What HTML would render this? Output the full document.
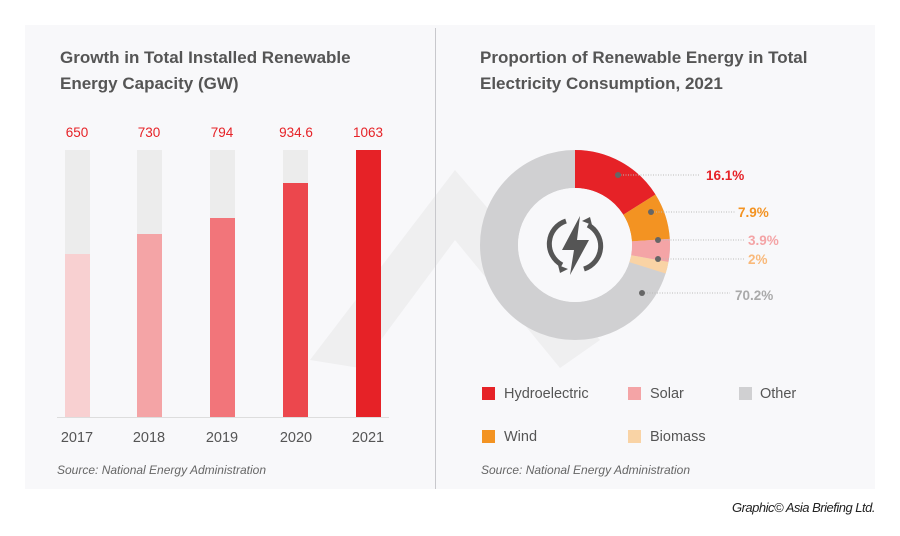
<!DOCTYPE html>
<html><head><meta charset="utf-8"><style>
body{margin:0;background:#fff;}
svg{display:block;font-family:"Liberation Sans",sans-serif;}
</style></head><body>
<svg width="900" height="536" viewBox="0 0 900 536">
<rect x="25" y="25" width="850" height="464" fill="#f8f8fa"/>
<path d="M310 360 L455 170 L600 340 L560 368 L455 240 L360 368 Z" fill="#ececee" opacity="0.8"/>
<line x1="435.5" y1="28" x2="435.5" y2="489" stroke="#c8c8cc" stroke-width="1"/>
<g font-weight="bold" fill="#555" font-size="17">
<text x="60" y="63">Growth in Total Installed Renewable</text>
<text x="60" y="89">Energy Capacity (GW)</text>
<text x="480" y="63">Proportion of Renewable Energy in Total</text>
<text x="480" y="89">Electricity Consumption, 2021</text>
</g>
<g fill="#ececec">
<rect x="65" y="150" width="25" height="267"/><rect x="137" y="150" width="25" height="267"/>
<rect x="210" y="150" width="25" height="267"/><rect x="283" y="150" width="25" height="267"/>
</g>
<rect x="65" y="254" width="25" height="163" fill="#f8d0d1"/>
<rect x="137" y="234" width="25" height="183" fill="#f4a4a6"/>
<rect x="210" y="218" width="25" height="199" fill="#f2757a"/>
<rect x="283" y="183" width="25" height="234" fill="#ec474d"/>
<rect x="356" y="150" width="25" height="267" fill="#e62227"/>
<line x1="57" y1="417.5" x2="389" y2="417.5" stroke="#ddd"/>
<g fill="#e62227" font-size="13.5" text-anchor="middle">
<text x="77" y="137">650</text><text x="149" y="137">730</text><text x="222" y="137">794</text><text x="296" y="137">934.6</text><text x="368" y="137">1063</text>
</g>
<g fill="#555" font-size="14.5" text-anchor="middle">
<text x="77" y="442">2017</text><text x="149" y="442">2018</text><text x="222" y="442">2019</text><text x="296" y="442">2020</text><text x="368" y="442">2021</text>
</g>
<text x="57" y="474" font-size="12" font-style="italic" fill="#666">Source: National Energy Administration</text>
<text x="481" y="474" font-size="12" font-style="italic" fill="#666">Source: National Energy Administration</text>
<g transform="rotate(-90 575 245)" fill="none" stroke-width="38">
<circle cx="575" cy="245" r="76" stroke="#d0d0d2" pathLength="100"/>
<circle cx="575" cy="245" r="76" stroke="#e62227" pathLength="100" stroke-dasharray="16.1 100"/>
<circle cx="575" cy="245" r="76" stroke="#f39322" pathLength="100" stroke-dasharray="0 16.1 7.9 100"/>
<circle cx="575" cy="245" r="76" stroke="#f4a4a6" pathLength="100" stroke-dasharray="0 24 3.9 100"/>
<circle cx="575" cy="245" r="76" stroke="#f9d3a5" pathLength="100" stroke-dasharray="0 27.9 2 100"/>
</g>
<circle cx="575" cy="245" r="57" fill="#f8f8fa"/>
<g fill="none" stroke="#555" stroke-width="5">
<path d="M566 221 A24 24 0 0 0 562 265"/><path d="M584 269 A24 24 0 0 0 588 225"/>
</g>
<path d="M558 265 l10 4 l-8 4z M592 225 l-10 -4 l8 -4z" fill="#555"/>
<path d="M580 216 L562 250 L574 250 L570 275 L589 240 L577 240 Z" fill="#555"/>
<g stroke="#bbb" stroke-dasharray="1 1.5">
<line x1="618" y1="175" x2="700" y2="175"/><line x1="651" y1="212" x2="735" y2="212"/>
<line x1="658" y1="240" x2="745" y2="240"/><line x1="658" y1="259" x2="745" y2="259"/>
<line x1="642" y1="293" x2="730" y2="293"/>
</g>
<g fill="#666"><circle cx="618" cy="175" r="3"/><circle cx="651" cy="212" r="3"/><circle cx="658" cy="240" r="3"/><circle cx="658" cy="259" r="3"/><circle cx="642" cy="293" r="3"/></g>
<g font-weight="bold" font-size="13.5">
<text x="706" y="180" fill="#e62227">16.1%</text><text x="738" y="217" fill="#f39322">7.9%</text>
<text x="748" y="245" fill="#f4a4a6">3.9%</text><text x="748" y="264" fill="#f9b97a">2%</text>
<text x="735" y="300" fill="#aaa">70.2%</text>
</g>
<rect x="482" y="387" width="13" height="13" fill="#e62227"/>
<rect x="628" y="387" width="13" height="13" fill="#f4a4a6"/>
<rect x="739" y="387" width="13" height="13" fill="#d0d0d2"/>
<rect x="482" y="430" width="13" height="13" fill="#f39322"/>
<rect x="628" y="430" width="13" height="13" fill="#f9d3a5"/>
<g fill="#555" font-size="14.5">
<text x="504" y="398">Hydroelectric</text><text x="650" y="398">Solar</text><text x="760" y="398">Other</text>
<text x="504" y="441">Wind</text><text x="650" y="441">Biomass</text>
</g>
<text x="875" y="512" font-size="13" font-style="italic" fill="#222" text-anchor="end" letter-spacing="-0.5">Graphic© Asia Briefing Ltd.</text>
</svg>
</body></html>
